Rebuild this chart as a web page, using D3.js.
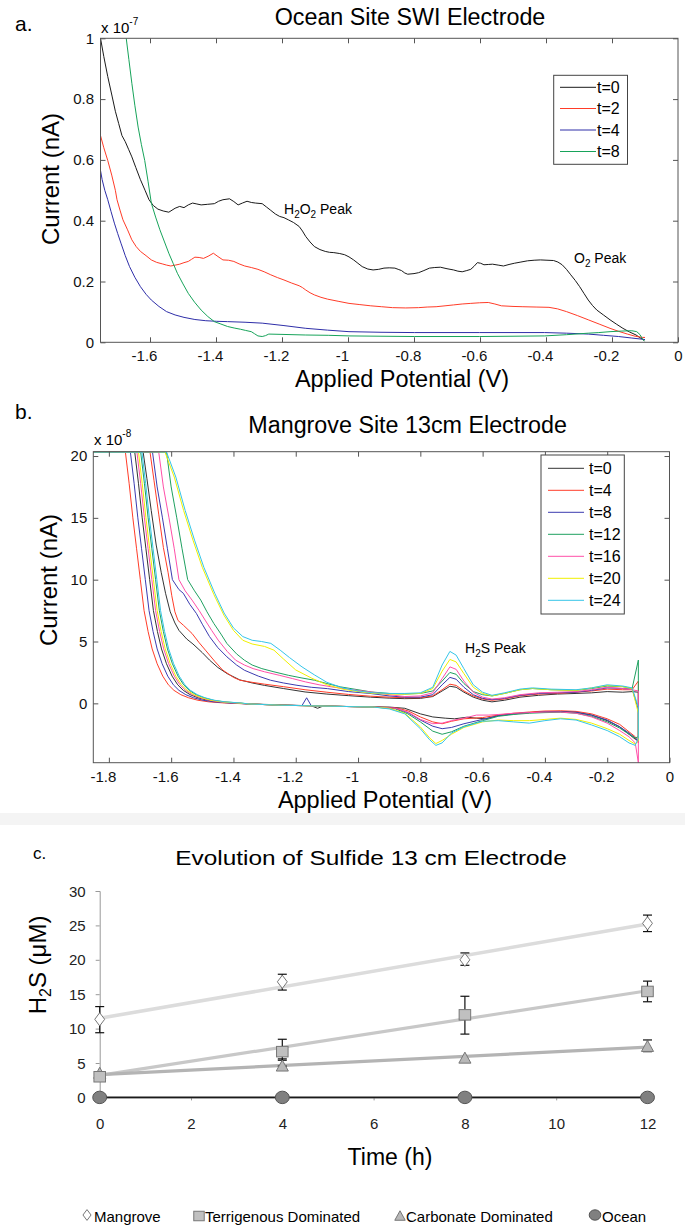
<!DOCTYPE html>
<html><head><meta charset="utf-8">
<script src="https://cdn.jsdelivr.net/npm/d3@7"></script>
<style>body{margin:0;background:#fff}svg{display:block}</style>
</head><body><svg id="fig" width="685" height="1226"></svg>
<script>
// ---------------- DATA ----------------
// Panel a: current (x 1e-7 nA) vs applied potential (V)
const aXTicks = [-1.6,-1.4,-1.2,-1,-0.8,-0.6,-0.4,-0.2,0];
const aYTicks = [0,0.2,0.4,0.6,0.8,1];
const aLabels = ["t=0","t=2","t=4","t=8"];
const aT0 = [[-1.75,1.0],[-1.74,0.94],[-1.728,0.874],[-1.715,0.81],[-1.705,0.76],[-1.695,0.72],[-1.685,0.68],[-1.675,0.66],[-1.665,0.635],[-1.655,0.61],[-1.643,0.575],[-1.629,0.535],[-1.615,0.5],[-1.603,0.469],[-1.59,0.45],[-1.576,0.438],[-1.56,0.432],[-1.543,0.428],[-1.524,0.441],[-1.51,0.447],[-1.497,0.443],[-1.484,0.452],[-1.471,0.458],[-1.458,0.455],[-1.445,0.452],[-1.425,0.454],[-1.405,0.456],[-1.392,0.464],[-1.379,0.469],[-1.359,0.472],[-1.346,0.463],[-1.333,0.452],[-1.32,0.458],[-1.306,0.464],[-1.293,0.46],[-1.28,0.458],[-1.26,0.456],[-1.247,0.445],[-1.234,0.434],[-1.22,0.422],[-1.207,0.414],[-1.194,0.41],[-1.181,0.403],[-1.165,0.394],[-1.148,0.381],[-1.138,0.366],[-1.128,0.348],[-1.115,0.33],[-1.102,0.315],[-1.085,0.305],[-1.069,0.299],[-1.056,0.296],[-1.043,0.295],[-1.025,0.292],[-1.01,0.288],[-0.997,0.281],[-0.983,0.271],[-0.97,0.26],[-0.957,0.249],[-0.94,0.241],[-0.924,0.238],[-0.907,0.24],[-0.891,0.244],[-0.875,0.245],[-0.858,0.244],[-0.848,0.24],[-0.838,0.236],[-0.828,0.228],[-0.819,0.224],[-0.8,0.226],[-0.786,0.229],[-0.77,0.236],[-0.753,0.244],[-0.737,0.246],[-0.72,0.247],[-0.7,0.242],[-0.68,0.238],[-0.667,0.234],[-0.654,0.232],[-0.64,0.236],[-0.628,0.24],[-0.618,0.25],[-0.608,0.262],[-0.598,0.26],[-0.588,0.255],[-0.575,0.256],[-0.562,0.257],[-0.545,0.254],[-0.529,0.251],[-0.512,0.256],[-0.496,0.26],[-0.476,0.264],[-0.456,0.268],[-0.436,0.27],[-0.417,0.271],[-0.397,0.27],[-0.377,0.269],[-0.364,0.264],[-0.351,0.255],[-0.338,0.24],[-0.325,0.222],[-0.311,0.203],[-0.298,0.183],[-0.285,0.161],[-0.272,0.139],[-0.259,0.121],[-0.246,0.106],[-0.226,0.09],[-0.206,0.074],[-0.187,0.06],[-0.167,0.046],[-0.147,0.034],[-0.127,0.024],[-0.115,0.015],[-0.107,0.01],[-0.102,0.005]];
const aT2 = [[-1.75,0.68],[-1.74,0.64],[-1.728,0.598],[-1.716,0.55],[-1.705,0.5],[-1.7,0.469],[-1.691,0.435],[-1.682,0.403],[-1.668,0.37],[-1.655,0.337],[-1.642,0.315],[-1.629,0.299],[-1.612,0.285],[-1.596,0.271],[-1.58,0.263],[-1.563,0.258],[-1.55,0.254],[-1.537,0.251],[-1.523,0.254],[-1.51,0.257],[-1.497,0.262],[-1.484,0.266],[-1.474,0.273],[-1.464,0.28],[-1.451,0.279],[-1.438,0.276],[-1.424,0.283],[-1.408,0.293],[-1.394,0.282],[-1.379,0.271],[-1.362,0.27],[-1.346,0.266],[-1.33,0.258],[-1.313,0.251],[-1.293,0.246],[-1.273,0.24],[-1.254,0.232],[-1.234,0.222],[-1.214,0.213],[-1.194,0.205],[-1.171,0.195],[-1.148,0.186],[-1.138,0.18],[-1.128,0.172],[-1.115,0.163],[-1.102,0.156],[-1.082,0.148],[-1.062,0.142],[-1.03,0.135],[-0.997,0.128],[-0.964,0.124],[-0.931,0.12],[-0.898,0.117],[-0.865,0.114],[-0.825,0.113],[-0.786,0.114],[-0.76,0.116],[-0.733,0.117],[-0.706,0.12],[-0.68,0.123],[-0.654,0.126],[-0.628,0.128],[-0.601,0.13],[-0.575,0.131],[-0.555,0.126],[-0.535,0.12],[-0.5,0.118],[-0.47,0.117],[-0.43,0.116],[-0.391,0.115],[-0.365,0.11],[-0.338,0.101],[-0.305,0.088],[-0.272,0.074],[-0.239,0.06],[-0.206,0.046],[-0.18,0.036],[-0.153,0.027],[-0.13,0.02],[-0.107,0.016],[-0.1,0.016]];
const aT4 = [[-1.75,0.565],[-1.745,0.535],[-1.737,0.5],[-1.728,0.469],[-1.718,0.43],[-1.708,0.392],[-1.698,0.358],[-1.688,0.326],[-1.675,0.285],[-1.662,0.249],[-1.646,0.214],[-1.629,0.183],[-1.612,0.158],[-1.596,0.139],[-1.573,0.118],[-1.55,0.101],[-1.524,0.09],[-1.497,0.082],[-1.464,0.075],[-1.431,0.071],[-1.398,0.069],[-1.365,0.068],[-1.312,0.066],[-1.26,0.063],[-1.194,0.055],[-1.128,0.046],[-1.062,0.04],[-0.997,0.035],[-0.9,0.033],[-0.799,0.032],[-0.7,0.032],[-0.601,0.032],[-0.5,0.032],[-0.404,0.032],[-0.338,0.03],[-0.272,0.027],[-0.226,0.023],[-0.18,0.019],[-0.14,0.014],[-0.107,0.01],[-0.1,0.009]];
const aT8 = [[-1.672,1.0],[-1.664,0.93],[-1.655,0.852],[-1.646,0.78],[-1.636,0.708],[-1.626,0.65],[-1.616,0.598],[-1.606,0.53],[-1.596,0.458],[-1.583,0.412],[-1.57,0.37],[-1.556,0.33],[-1.543,0.293],[-1.53,0.26],[-1.517,0.227],[-1.5,0.192],[-1.484,0.161],[-1.465,0.132],[-1.445,0.106],[-1.425,0.085],[-1.405,0.068],[-1.385,0.06],[-1.365,0.052],[-1.345,0.047],[-1.326,0.043],[-1.31,0.039],[-1.293,0.035],[-1.283,0.028],[-1.273,0.021],[-1.26,0.019],[-1.25,0.022],[-1.24,0.027],[-1.2,0.026],[-1.128,0.024],[-1.06,0.023],[-0.997,0.021],[-0.9,0.02],[-0.799,0.019],[-0.7,0.019],[-0.601,0.019],[-0.5,0.02],[-0.404,0.021],[-0.338,0.025],[-0.272,0.03],[-0.24,0.032],[-0.206,0.035],[-0.17,0.037],[-0.14,0.038],[-0.125,0.035],[-0.115,0.025],[-0.107,0.01],[-0.102,0.004]];

// Panel b: current (x 1e-8 nA); forward (upper) and return (lower) branches
const bXTicks = [-1.8,-1.6,-1.4,-1.2,-1,-0.8,-0.6,-0.4,-0.2,0];
const bYTicks = [0,5,10,15,20];
const bLabels = ["t=0","t=4","t=8","t=12","t=16","t=20","t=24"];
const b0Up = [[-1.85,20.33],[-1.69,20.33],[-1.678,18.2],[-1.664,15.6],[-1.648,12.8],[-1.632,10.6],[-1.618,8.9],[-1.603,7.4],[-1.588,6.5],[-1.575,5.9],[-1.55,5.2],[-1.53,4.8],[-1.5,4.1],[-1.477,3.5],[-1.45,2.9],[-1.42,2.4],[-1.38,1.9],[-1.34,1.65],[-1.3,1.45],[-1.24,1.2],[-1.17,0.92],[-1.1,0.75],[-1.03,0.62],[-0.96,0.5],[-0.9,0.42],[-0.85,0.38],[-0.8,0.4],[-0.76,0.55],[-0.73,1.0],[-0.705,1.38],[-0.685,1.3],[-0.66,0.9],[-0.63,0.5],[-0.6,0.25],[-0.57,0.12],[-0.53,0.25],[-0.48,0.5],[-0.42,0.65],[-0.36,0.75],[-0.3,0.8],[-0.25,0.85],[-0.2,0.95],[-0.15,0.9],[-0.12,0.95],[-0.1,0.9]];
const b0Dn = [[-1.85,20.33],[-1.717,20.33],[-1.705,17.8],[-1.693,15],[-1.681,12.5],[-1.669,10],[-1.657,7.5],[-1.644,5.8],[-1.631,4.4],[-1.615,3.2],[-1.597,2.2],[-1.579,1.5],[-1.561,1.05],[-1.539,0.7],[-1.514,0.45],[-1.484,0.25],[-1.449,0.12],[-1.399,0.03],[-1.35,-0.05],[-1.25,-0.12],[-1.15,-0.2],[-1.13,-0.4],[-1.11,-0.2],[-1.05,-0.25],[-0.95,-0.28],[-0.9,-0.3],[-0.85,-0.4],[-0.8,-0.85],[-0.76,-1.1],[-0.72,-1.2],[-0.69,-1.25],[-0.65,-1.12],[-0.62,-1.2],[-0.59,-1.25],[-0.55,-1.0],[-0.5,-0.85],[-0.45,-0.75],[-0.4,-0.68],[-0.35,-0.65],[-0.3,-0.72],[-0.25,-0.95],[-0.2,-1.4],[-0.16,-1.9],[-0.13,-2.5],[-0.11,-2.9],[-0.1,-3.0]];
const b4Up = [[-1.85,20.33],[-1.668,20.33],[-1.655,18],[-1.64,15.3],[-1.625,12.6],[-1.61,10.6],[-1.598,8.7],[-1.588,7.4],[-1.578,6.7],[-1.56,6.3],[-1.533,5.65],[-1.51,4.9],[-1.49,4.3],[-1.46,3.4],[-1.435,2.7],[-1.4,2.1],[-1.379,1.87],[-1.34,1.7],[-1.3,1.55],[-1.24,1.35],[-1.17,1.1],[-1.1,0.9],[-1.03,0.72],[-0.96,0.58],[-0.9,0.5],[-0.85,0.45],[-0.8,0.45],[-0.76,0.6],[-0.73,1.1],[-0.705,1.55],[-0.685,1.45],[-0.66,1.0],[-0.63,0.6],[-0.6,0.35],[-0.57,0.25],[-0.53,0.35],[-0.48,0.6],[-0.42,0.75],[-0.36,0.8],[-0.3,0.9],[-0.25,1.0],[-0.2,1.15],[-0.15,1.1],[-0.12,1.1],[-0.1,1.8]];
const b4Dn = [[-1.85,20.33],[-1.747,20.33],[-1.735,17.8],[-1.723,15],[-1.711,12.5],[-1.699,10],[-1.687,7.5],[-1.674,5.8],[-1.661,4.4],[-1.645,3.2],[-1.627,2.2],[-1.609,1.5],[-1.591,1.05],[-1.569,0.7],[-1.544,0.45],[-1.514,0.25],[-1.479,0.12],[-1.429,0.03],[-1.35,-0.05],[-1.25,-0.15],[-1.15,-0.2],[-1.05,-0.25],[-0.95,-0.3],[-0.88,-0.35],[-0.84,-0.6],[-0.8,-1.1],[-0.76,-1.5],[-0.73,-1.65],[-0.7,-1.45],[-0.66,-1.25],[-0.6,-1.15],[-0.55,-0.95],[-0.5,-0.8],[-0.45,-0.7],[-0.4,-0.62],[-0.35,-0.6],[-0.3,-0.65],[-0.25,-0.85],[-0.2,-1.25],[-0.16,-1.7],[-0.13,-2.3],[-0.11,-2.7],[-0.1,-3.2]];
const b8Up = [[-1.85,20.33],[-1.66,20.33],[-1.645,17.5],[-1.628,15],[-1.612,12.5],[-1.596,10],[-1.575,9.2],[-1.561,8.9],[-1.54,8.0],[-1.519,7.27],[-1.5,6.4],[-1.477,5.4],[-1.45,4.5],[-1.421,3.76],[-1.39,3.1],[-1.365,2.68],[-1.32,2.2],[-1.281,1.87],[-1.24,1.65],[-1.196,1.46],[-1.15,1.3],[-1.098,1.19],[-1.03,0.95],[-0.958,0.79],[-0.9,0.6],[-0.85,0.5],[-0.8,0.5],[-0.76,0.7],[-0.73,1.5],[-0.705,2.1],[-0.685,1.95],[-0.66,1.3],[-0.63,0.7],[-0.6,0.4],[-0.57,0.3],[-0.53,0.4],[-0.48,0.65],[-0.42,0.8],[-0.36,0.85],[-0.3,0.9],[-0.25,1.05],[-0.2,1.25],[-0.15,1.2],[-0.12,1.15],[-0.1,-0.5]];
const b8Dn = [[-1.85,20.33],[-1.731,20.33],[-1.719,17.8],[-1.707,15],[-1.695,12.5],[-1.683,10],[-1.671,7.5],[-1.658,5.8],[-1.645,4.4],[-1.629,3.2],[-1.611,2.2],[-1.593,1.5],[-1.575,1.05],[-1.553,0.7],[-1.528,0.45],[-1.498,0.25],[-1.463,0.12],[-1.413,0.03],[-1.35,-0.05],[-1.25,-0.15],[-1.18,-0.18],[-1.165,0.45],[-1.15,-0.2],[-1.05,-0.25],[-0.95,-0.3],[-0.88,-0.4],[-0.84,-0.75],[-0.8,-1.35],[-0.76,-1.85],[-0.73,-2.05],[-0.7,-1.95],[-0.66,-1.65],[-0.6,-1.3],[-0.55,-1.0],[-0.5,-0.85],[-0.45,-0.75],[-0.4,-0.7],[-0.35,-0.68],[-0.3,-0.72],[-0.25,-0.95],[-0.2,-1.35],[-0.16,-1.9],[-0.13,-2.4],[-0.11,-2.8],[-0.1,-3.1]];
const b12Up = [[-1.85,20.33],[-1.615,20.33],[-1.6,17.5],[-1.582,15],[-1.565,12.5],[-1.547,10],[-1.525,9.1],[-1.505,8.35],[-1.485,7.4],[-1.463,6.46],[-1.44,5.6],[-1.421,4.84],[-1.39,4.0],[-1.365,3.49],[-1.34,3.1],[-1.309,2.81],[-1.27,2.55],[-1.224,2.27],[-1.18,2.05],[-1.14,1.87],[-1.1,1.6],[-1.056,1.33],[-1.0,1.1],[-0.958,0.92],[-0.9,0.8],[-0.85,0.75],[-0.8,0.8],[-0.76,1.0],[-0.73,1.8],[-0.705,2.5],[-0.685,2.35],[-0.66,1.6],[-0.63,0.95],[-0.6,0.7],[-0.57,0.6],[-0.53,0.8],[-0.48,1.1],[-0.44,1.2],[-0.38,1.1],[-0.3,1.05],[-0.25,1.2],[-0.2,1.4],[-0.15,1.35],[-0.12,1.2],[-0.1,3.5]];
const b12Dn = [[-1.85,20.33],[-1.698,20.33],[-1.686,17.8],[-1.674,15],[-1.662,12.5],[-1.65,10],[-1.638,7.5],[-1.625,5.8],[-1.612,4.4],[-1.596,3.2],[-1.578,2.2],[-1.56,1.5],[-1.542,1.05],[-1.52,0.7],[-1.495,0.45],[-1.465,0.25],[-1.43,0.12],[-1.38,0.03],[-1.35,-0.05],[-1.25,-0.15],[-1.15,-0.2],[-1.05,-0.25],[-0.95,-0.3],[-0.88,-0.45],[-0.84,-0.85],[-0.8,-1.5],[-0.76,-2.25],[-0.73,-2.5],[-0.7,-2.3],[-0.66,-1.85],[-0.6,-1.4],[-0.55,-1.05],[-0.5,-0.9],[-0.45,-0.8],[-0.4,-0.75],[-0.35,-0.72],[-0.3,-0.8],[-0.25,-1.05],[-0.2,-1.5],[-0.16,-2.0],[-0.13,-2.5],[-0.11,-2.8],[-0.1,-2.7]];
const b16Up = [[-1.85,20.33],[-1.64,20.33],[-1.625,17.5],[-1.607,15],[-1.59,12.5],[-1.575,10],[-1.555,9.1],[-1.533,8.35],[-1.51,7.5],[-1.491,6.73],[-1.47,5.9],[-1.449,5.11],[-1.42,4.2],[-1.393,3.49],[-1.365,3.1],[-1.337,2.81],[-1.3,2.55],[-1.253,2.27],[-1.21,2.0],[-1.168,1.73],[-1.125,1.5],[-1.084,1.33],[-1.02,1.1],[-0.958,0.92],[-0.9,0.7],[-0.85,0.55],[-0.8,0.6],[-0.76,0.85],[-0.73,2.0],[-0.705,2.95],[-0.685,2.75],[-0.66,1.8],[-0.63,0.9],[-0.6,0.5],[-0.57,0.35],[-0.53,0.45],[-0.48,0.7],[-0.42,0.85],[-0.36,0.9],[-0.3,0.95],[-0.25,1.1],[-0.2,1.3],[-0.15,1.2],[-0.12,1.1],[-0.1,1.0]];
const b16Dn = [[-1.85,20.33],[-1.71,20.33],[-1.698,17.8],[-1.686,15],[-1.674,12.5],[-1.662,10],[-1.65,7.5],[-1.637,5.8],[-1.624,4.4],[-1.608,3.2],[-1.59,2.2],[-1.572,1.5],[-1.554,1.05],[-1.532,0.7],[-1.507,0.45],[-1.477,0.25],[-1.442,0.12],[-1.392,0.03],[-1.35,-0.05],[-1.25,-0.15],[-1.15,-0.2],[-1.05,-0.25],[-0.95,-0.3],[-0.88,-0.4],[-0.84,-0.7],[-0.8,-1.3],[-0.76,-1.65],[-0.73,-1.6],[-0.7,-1.4],[-0.66,-1.2],[-0.62,-0.95],[-0.58,-0.95],[-0.55,-0.9],[-0.5,-0.8],[-0.45,-0.75],[-0.4,-0.7],[-0.35,-0.7],[-0.3,-0.8],[-0.25,-1.1],[-0.2,-1.6],[-0.16,-2.2],[-0.13,-2.7],[-0.11,-3.2],[-0.1,-4.8]];
const b20Up = [[-1.85,20.33],[-1.62,20.33],[-1.59,18.3],[-1.56,15.6],[-1.53,13.2],[-1.5,11.0],[-1.463,8.8],[-1.43,7.1],[-1.4,5.9],[-1.37,5.1],[-1.34,4.8],[-1.3,4.6],[-1.27,4.3],[-1.24,3.6],[-1.2,2.7],[-1.15,2.05],[-1.1,1.5],[-1.05,1.15],[-1.0,0.95],[-0.95,0.8],[-0.9,0.75],[-0.85,0.75],[-0.8,0.8],[-0.76,1.2],[-0.73,2.6],[-0.705,3.55],[-0.685,3.35],[-0.66,2.4],[-0.63,1.3],[-0.6,0.8],[-0.57,0.6],[-0.53,0.8],[-0.48,1.1],[-0.44,1.2],[-0.38,1.1],[-0.3,1.05],[-0.25,1.25],[-0.2,1.45],[-0.15,1.35],[-0.12,1.2],[-0.1,-0.8]];
const b20Dn = [[-1.85,20.33],[-1.705,20.33],[-1.693,17.8],[-1.681,15],[-1.669,12.5],[-1.657,10],[-1.645,7.5],[-1.632,5.8],[-1.619,4.4],[-1.603,3.2],[-1.585,2.2],[-1.567,1.5],[-1.549,1.05],[-1.527,0.7],[-1.502,0.45],[-1.472,0.25],[-1.437,0.12],[-1.387,0.03],[-1.35,-0.05],[-1.25,-0.15],[-1.15,-0.2],[-1.05,-0.25],[-0.95,-0.3],[-0.9,-0.4],[-0.85,-0.8],[-0.8,-1.9],[-0.77,-2.8],[-0.75,-3.25],[-0.73,-3.0],[-0.7,-2.5],[-0.66,-1.95],[-0.6,-1.5],[-0.55,-1.35],[-0.5,-1.4],[-0.45,-1.4],[-0.4,-1.3],[-0.35,-1.2],[-0.3,-1.3],[-0.25,-1.6],[-0.2,-2.05],[-0.16,-2.5],[-0.13,-3.0],[-0.11,-3.3],[-0.1,-3.0]];
const b24Up = [[-1.85,20.33],[-1.615,20.33],[-1.585,18.3],[-1.555,15.6],[-1.525,13.2],[-1.495,11.0],[-1.46,8.9],[-1.43,7.3],[-1.4,6.1],[-1.37,5.4],[-1.34,5.1],[-1.31,5.0],[-1.28,4.85],[-1.25,4.3],[-1.22,3.7],[-1.18,2.95],[-1.14,2.3],[-1.1,1.7],[-1.05,1.25],[-1.0,1.0],[-0.95,0.85],[-0.9,0.8],[-0.85,0.8],[-0.8,0.85],[-0.76,1.3],[-0.73,3.1],[-0.705,4.2],[-0.685,3.9],[-0.66,2.8],[-0.63,1.5],[-0.6,0.9],[-0.57,0.65],[-0.53,0.85],[-0.48,1.15],[-0.44,1.25],[-0.38,1.15],[-0.3,1.1],[-0.25,1.25],[-0.2,1.5],[-0.15,1.4],[-0.12,1.25],[-0.1,-0.3]];
const b24Dn = [[-1.85,20.33],[-1.694,20.33],[-1.682,17.8],[-1.67,15],[-1.658,12.5],[-1.646,10],[-1.634,7.5],[-1.621,5.8],[-1.608,4.4],[-1.592,3.2],[-1.574,2.2],[-1.556,1.5],[-1.538,1.05],[-1.516,0.7],[-1.491,0.45],[-1.461,0.25],[-1.426,0.12],[-1.376,0.03],[-1.35,-0.05],[-1.25,-0.15],[-1.15,-0.2],[-1.05,-0.25],[-0.95,-0.3],[-0.9,-0.45],[-0.85,-0.85],[-0.8,-2.05],[-0.77,-2.95],[-0.75,-3.4],[-0.73,-3.2],[-0.7,-2.4],[-0.66,-1.9],[-0.6,-1.45],[-0.55,-1.4],[-0.5,-1.5],[-0.45,-1.6],[-0.4,-1.4],[-0.35,-1.25],[-0.3,-1.35],[-0.25,-1.75],[-0.2,-2.2],[-0.16,-2.7],[-0.13,-3.2],[-0.11,-3.4],[-0.1,-2.8]];

// Panel c: H2S (uM) vs time (h)
const cTimes = [0,4,8,12];
const cXTicks = [0,2,4,6,8,10,12];
const cYTicks = [0,5,10,15,20,25,30];
const cSeries = ["Mangrove","Terrigenous Dominated","Carbonate Dominated","Ocean"];
const mangrove = [11.35,16.8,20.0,25.3];
const mangroveLo = [9.4,15.6,19.2,24.1];
const mangroveHi = [13.2,17.9,21.0,26.5];
const terrigenous = [3.0,6.65,12.0,15.4];
const terrigenousLo = [3.0,5.4,9.2,13.9];
const terrigenousHi = [3.0,8.45,14.7,16.9];
const carbonate = [3.5,4.55,5.7,7.4];
const carbonateLo = [3.5,4.55,5.7,6.65];
const carbonateHi = [3.5,5.6,5.7,8.35];
const ocean = [0,0,0,0];
const trendEnds = [0,12];
const mangroveTrend = [11.5,25.2];
const terrigenousTrend = [3.2,15.5];
const carbonateTrend = [3.3,7.3];
const oceanTrend = [0,0];

// ---------------- DRAW ----------------
const F = "'Liberation Sans', Arial, Helvetica, sans-serif";
const svg = d3.select("#fig");
svg.append("rect").attr("width",685).attr("height",1226).attr("fill","#fff");

function label(g, x, y, s, size, anchor, extra) {
  const t = g.append("text").attr("x",x).attr("y",y).attr("font-family",F)
    .attr("font-size",size).attr("text-anchor",anchor||"start").attr("fill","#000").text(s);
  if (extra) extra(t);
  return t;
}
const fmt = d => String(+d.toFixed(1));

function matlabAxes(g, x, y, xt, yt, xpad, ypad) {
  const [x0,x1] = x.range(), [y0,y1] = y.range();
  const styleAx = a => {
    a.select(".domain").remove();
    a.selectAll("line").attr("stroke","#555").attr("stroke-width",1);
    a.selectAll("text").attr("font-family",F).attr("font-size",15).attr("fill","#111");
  };
  g.append("g").attr("transform",`translate(0,${y0})`)
    .call(d3.axisBottom(x).tickValues(xt).tickSize(-5).tickPadding(xpad).tickFormat(fmt))
    .call(styleAx).call(a=>a.selectAll("text").attr("dx",d=>d<0?-6:0));
  g.append("g").attr("transform",`translate(0,${y1})`)
    .call(d3.axisTop(x).tickValues(xt.filter(v=>v<x.domain()[1])).tickSize(-5).tickFormat("")).call(styleAx);
  g.append("g").attr("transform",`translate(${x0},0)`)
    .call(d3.axisLeft(y).tickValues(yt).tickSize(-5).tickPadding(ypad).tickFormat(fmt)).call(styleAx);
  g.append("g").attr("transform",`translate(${x1},0)`)
    .call(d3.axisRight(y).tickValues(yt).tickSize(-5).tickFormat("")).call(styleAx);
  g.append("rect").attr("x",x0).attr("y",y1).attr("width",x1-x0).attr("height",y0-y1)
    .attr("fill","none").attr("stroke","#555").attr("stroke-width",1);
}

function legendBox(g, x0, y0, w, h, ys, lx0, lx1, tx, labels, colors) {
  g.append("rect").attr("x",x0).attr("y",y0).attr("width",w).attr("height",h)
    .attr("fill","#fff").attr("stroke","#444").attr("stroke-width",1);
  labels.forEach((l,i)=>{
    const yy = ys[i];
    g.append("line").attr("x1",lx0).attr("x2",lx1).attr("y1",yy).attr("y2",yy)
      .attr("stroke",colors[i]).attr("stroke-width",1);
    label(g, tx, yy, l, 16, "start", t=>t.attr("dy","0.36em"));
  });
}

// ---- Panel a ----
const gA = svg.append("g");
const xa = d3.scaleLinear().domain([-1.75,0]).range([100.5,678]);
const ya = d3.scaleLinear().domain([0,1]).range([342.3,38.3]);
svg.append("clipPath").attr("id","clipA").append("rect")
  .attr("x",100.5).attr("y",38.3).attr("width",577.5).attr("height",304);
const colA = ["#1a1a1a","#ff3c28","#2e2ea8","#17a35a"];
const lineA = d3.line().x(d=>xa(d[0])).y(d=>ya(d[1]));
const gAc = gA.append("g").attr("clip-path","url(#clipA)");
[aT0,aT2,aT4,aT8].forEach((s,i)=>{
  gAc.append("path").attr("d",lineA(s)).attr("fill","none").attr("stroke",colA[i]).attr("stroke-width",1);
});
matlabAxes(gA, xa, ya, aXTicks, aYTicks, 8, 6.5);
label(gA, 410, 25, "Ocean Site SWI Electrode", 23.3, "middle");
label(gA, 15, 31, "a.", 21, "start");
label(gA, 101, 33, "x 10", 15, "start", t=>t.append("tspan").attr("dy",-8).attr("font-size",10).text("-7"));
label(gA, 402, 387, "Applied Potential (V)", 23.5, "middle");
label(gA, 0, 0, "Current (nA)", 24, "middle", t=>t.attr("transform","translate(59,179) rotate(-90)"));
label(gA, 284, 214, "H", 14, "start", t=>{
  t.append("tspan").attr("font-size",10).attr("dy",4).text("2");
  t.append("tspan").attr("dy",-4).text("O");
  t.append("tspan").attr("font-size",10).attr("dy",4).text("2");
  t.append("tspan").attr("dy",-4).text(" Peak");
});
label(gA, 574, 263, "O", 14, "start", t=>{
  t.append("tspan").attr("font-size",10).attr("dy",4).text("2");
  t.append("tspan").attr("dy",-4).text(" Peak");
});
legendBox(gA, 553.7, 75.3, 73.8, 89, [87.3,108.5,130,151.5], 560, 596, 597, aLabels, colA);

// ---- Panel b ----
const gB = svg.append("g");
const xb = d3.scaleLinear().domain([-1.85,0]).range([93.3,669.5]);
const yb = d3.scaleLinear().domain([-4.8,20.35]).range([762.7,451.7]);
svg.append("clipPath").attr("id","clipB").append("rect")
  .attr("x",93.3).attr("y",451.7).attr("width",576.2).attr("height",311);
const colB = ["#333333","#ff3c28","#3b3bb0","#1fa060","#ff4fa8","#f0f000","#35c5e8"];
const lineB = d3.line().x(d=>xb(d[0])).y(d=>yb(d[1]));
const gBc = gB.append("g").attr("clip-path","url(#clipB)");
const bUp = [b0Up,b4Up,b8Up,b12Up,b16Up,b20Up,b24Up];
const bDn = [b0Dn,b4Dn,b8Dn,b12Dn,b16Dn,b20Dn,b24Dn];
bUp.forEach((u,i)=>{
  const pts = u.slice().reverse().concat(bDn[i]).concat([u[u.length-1]]);
  gBc.append("path").attr("d",lineB(pts)).attr("fill","none").attr("stroke",colB[i]).attr("stroke-width",1);
});
matlabAxes(gB, xb, yb, bXTicks, bYTicks, 8.6, 6);
label(gB, 407.6, 433, "Mangrove Site 13cm Electrode", 23.3, "middle");
label(gB, 15, 419, "b.", 21, "start");
label(gB, 94, 445, "x 10", 15, "start", t=>t.append("tspan").attr("dy",-8).attr("font-size",10).text("-8"));
label(gB, 385, 808, "Applied Potential (V)", 23.5, "middle");
label(gB, 0, 0, "Current (nA)", 24, "middle", t=>t.attr("transform","translate(57,580) rotate(-90)"));
label(gB, 465, 653, "H", 14, "start", t=>{
  t.append("tspan").attr("font-size",10).attr("dy",4).text("2");
  t.append("tspan").attr("dy",-4).text("S Peak");
});
legendBox(gB, 541, 455, 83.3, 159, d3.range(7).map(k=>468.3+22*k), 548, 584, 589, bLabels, colB);

// separator band
svg.append("rect").attr("x",0).attr("y",813).attr("width",685).attr("height",12).attr("fill","#f4f4f4");

// ---- Panel c ----
const gC = svg.append("g");
const xc = d3.scaleLinear().domain([0,12]).range([99.7,647.5]);
const yc = d3.scaleLinear().domain([0,30]).range([1097.4,891]);
gC.append("g").attr("transform","translate(99.7,0)")
  .call(d3.axisLeft(yc).tickValues(cYTicks).tickSize(4).tickPadding(10))
  .call(a=>{a.select(".domain").attr("stroke","#999");
    a.selectAll("line").attr("stroke","#999");
    a.selectAll("text").attr("font-family",F).attr("font-size",15).attr("fill","#222").attr("dy","0.34em");});
gC.append("g").attr("transform","translate(0,1097.4)")
  .call(d3.axisBottom(xc).tickValues(cXTicks).tickSize(3).tickPadding(18))
  .call(a=>{a.select(".domain").attr("stroke","#999");
    a.selectAll("line").attr("stroke","#999");
    a.selectAll("text").attr("font-family",F).attr("font-size",15).attr("fill","#222");});
const trends = [[mangroveTrend,"#dcdcdc",3.5],[terrigenousTrend,"#c8c8c8",3.2],[carbonateTrend,"#b4b4b4",3.2],[oceanTrend,"#1a1a1a",1.6]];
trends.forEach(([t,c,w])=>{
  gC.append("line").attr("x1",xc(trendEnds[0])).attr("x2",xc(trendEnds[1]))
    .attr("y1",yc(t[0])).attr("y2",yc(t[1])).attr("stroke",c).attr("stroke-width",w);
});
[[mangroveLo,mangroveHi],[terrigenousLo,terrigenousHi],[carbonateLo,carbonateHi]].forEach(([lo,hi])=>{
  cTimes.forEach((t,i)=>{
    if (hi[i]-lo[i] < 0.05) return;
    const x = xc(t);
    gC.append("line").attr("x1",x).attr("x2",x).attr("y1",yc(lo[i])).attr("y2",yc(hi[i])).attr("stroke","#111").attr("stroke-width",1.2);
    [lo[i],hi[i]].forEach(v=>gC.append("line").attr("x1",x-4.5).attr("x2",x+4.5).attr("y1",yc(v)).attr("y2",yc(v)).attr("stroke","#111").attr("stroke-width",1.2));
  });
});
const diamond = (g,x,y,s)=>g.append("path").attr("d",`M${x},${y-s*0.6}L${x+s*0.45},${y}L${x},${y+s*0.6}L${x-s*0.45},${y}Z`).attr("fill","#fff").attr("stroke","#777").attr("stroke-width",1);
const square = (g,x,y,s)=>g.append("rect").attr("x",x-s*0.55).attr("y",y-s*0.5).attr("width",s*1.1).attr("height",s).attr("fill","#c0c0c0").attr("stroke","#777").attr("stroke-width",1);
const tri = (g,x,y,s)=>g.append("path").attr("d",`M${x},${y-s*0.55}L${x+s*0.55},${y+s*0.45}L${x-s*0.55},${y+s*0.45}Z`).attr("fill","#b8b8b8").attr("stroke","#777").attr("stroke-width",1);
const circ = (g,x,y,s)=>g.append("ellipse").attr("cx",x).attr("cy",y).attr("rx",s*0.58).attr("ry",s*0.52).attr("fill","#808080").attr("stroke","#555").attr("stroke-width",1);
cTimes.forEach((t,i)=>{
  circ(gC, xc(t), yc(ocean[i]), 12);
  tri(gC, xc(t), yc(carbonate[i]), 11);
  square(gC, xc(t), yc(terrigenous[i]), 10.5);
  diamond(gC, xc(t), yc(mangrove[i]), 11);
});
label(gC, 33, 859, "c.", 17, "start");
label(gC, 0, 0, "Evolution of Sulfide 13 cm Electrode", 19.5, "middle", t=>t.attr("transform","translate(371,865) scale(1.25,1)"));
label(gC, 390, 1165, "Time (h)", 23, "middle");
label(gC, 0, 0, "H", 24, "middle", t=>{
  t.attr("transform","translate(46,965) rotate(-90)");
  t.append("tspan").attr("font-size",16).attr("dy",5).text("2");
  t.append("tspan").attr("dy",-5).text("S (μM)");
});
const ly = 1216;
diamond(gC, 87, ly-1, 9);
label(gC, 94, ly+5.5, cSeries[0], 15, "start");
square(gC, 199, ly, 9.5);
label(gC, 205, ly+5.5, cSeries[1], 15, "start");
tri(gC, 400, ly, 9.5);
label(gC, 406, ly+5.5, cSeries[2], 15, "start");
circ(gC, 595, ly-1, 10);
label(gC, 602, ly+5.5, cSeries[3], 15, "start");
</script></body></html>
